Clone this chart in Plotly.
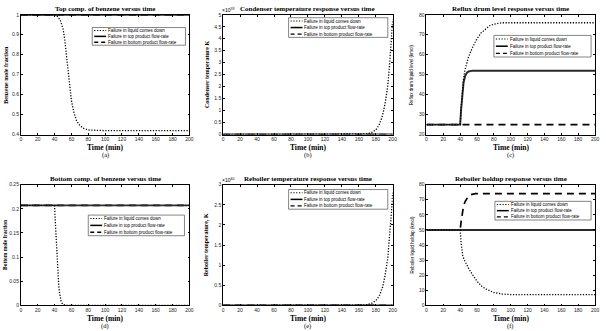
import plotly.graph_objects as go

W, H = 606, 331

# ---------------- data ----------------
time_ticks = [0, 20, 40, 60, 80, 100, 120, 140, 160, 180, 200]
series_names = ["Failure in liquid comes down",
                "Failure in top product flow-rate",
                "Failure in bottom product flow-rate"]

# (a) Top comp. of benzene
a_liq_t = [0, 40, 44, 47, 50, 52, 54, 56, 58, 60, 63, 66, 70, 75, 80, 90, 100, 200]
a_liq_y = [1, 1, 0.99, 0.97, 0.93, 0.88, 0.80, 0.72, 0.64, 0.57, 0.51, 0.47, 0.445, 0.43, 0.423, 0.42, 0.42, 0.42]
a_top_t = [0, 200]
a_top_y = [1, 1]
a_bot_t = [0, 200]
a_bot_y = [1, 1]

# (b) Condenser temperature (x1e59)
b_liq_t = [0, 160, 165, 170, 175, 180, 184, 188, 191, 194, 196, 198, 199, 200]
b_liq_y = [0, 0, 0.01, 0.03, 0.08, 0.2, 0.4, 0.8, 1.3, 2.0, 2.8, 3.7, 4.2, 4.8]
b_top_t = [0, 200]
b_top_y = [0, 0]
b_bot_t = [0, 200]
b_bot_y = [0, 0]

# (c) Reflux drum level
c_liq_t = [0, 40, 41, 42, 44, 46, 48, 50, 55, 60, 65, 70, 75, 80, 85, 90, 95, 100, 200]
c_liq_y = [25, 25, 33, 40, 48, 53, 56, 59, 64, 68, 71, 73, 74.5, 75.3, 75.8, 76, 76, 76, 76]
c_top_t = [0, 40, 41, 42, 43, 44, 46, 48, 50, 55, 60, 200]
c_top_y = [25, 25, 32, 38, 43, 46, 49.5, 51, 51.6, 52, 52, 52]
c_bot_t = [0, 200]
c_bot_y = [25, 25]

# (d) Bottom comp. of benzene
d_liq_t = [0, 40, 41, 42, 43, 44, 45, 46, 47, 48, 50, 55, 200]
d_liq_y = [0.207, 0.207, 0.17, 0.13, 0.095, 0.065, 0.04, 0.025, 0.014, 0.007, 0.002, 0, 0]
d_top_t = [0, 200]
d_top_y = [0.207, 0.207]
d_bot_t = [0, 200]
d_bot_y = [0.207, 0.207]

# (e) Reboiler temperature (x1e60)
e_liq_t = [0, 160, 165, 170, 175, 180, 184, 188, 191, 194, 196, 198, 199, 200]
e_liq_y = [0, 0, 0.01, 0.02, 0.05, 0.12, 0.23, 0.45, 0.75, 1.15, 1.6, 2.15, 2.45, 2.8]
e_top_t = [0, 200]
e_top_y = [0, 0]
e_bot_t = [0, 200]
e_bot_y = [0, 0]

# (f) Reboiler holdup
f_liq_t = [0, 40, 41, 42, 43, 45, 47, 50, 55, 60, 65, 70, 80, 90, 100, 200]
f_liq_y = [50, 50, 42, 37, 33, 30, 27.5, 24.5, 20, 16, 13, 11, 8.5, 7.5, 7.2, 7.2]
f_top_t = [0, 200]
f_top_y = [50, 50]
f_bot_t = [0, 40, 41, 42, 43, 44, 46, 48, 50, 52, 55, 58, 200]
f_bot_y = [50, 50, 55, 60, 63, 66, 69, 71, 72.5, 73.3, 73.8, 74, 74]

# ---------------- layout helpers ----------------
def px_x(v):
    return v / W

def px_y(v):
    return 1 - v / H

cols = [(20, 190), (224, 395), (429, 599)]
rows = [(12, 134), (185, 308)]

panels = [
    dict(title="Top comp. of benzene versus time", ylab="Benzene mole fraction",
         yr=[0.4, 1], dt=0.1, data=[(a_liq_t, a_liq_y), (a_top_t, a_top_y), (a_bot_t, a_bot_y)],
         cap="(a)", legend=(92, 186, 25, 43), ylabsize=6, ylabx=5, exp=None),
    dict(title="Condenser temperature response versus time", ylab="Condenser temperature K",
         yr=[0, 5], dt=0.5, data=[(b_liq_t, b_liq_y), (b_top_t, b_top_y), (b_bot_t, b_bot_y)],
         cap="(b)", legend=(290, 390, 15, 35), ylabsize=6, ylabx=207, exp="×10<sup>59</sup>"),
    dict(title="Reflux drum level response versus time", ylab="Reflux drum liquid level (kmol)",
         yr=[20, 80], dt=10, data=[(c_liq_t, c_liq_y), (c_top_t, c_top_y), (c_bot_t, c_bot_y)],
         cap="(c)", legend=(497, 595, 33, 55), ylabsize=4.5, ylabx=414, exp=None),
    dict(title="Bottom comp. of benzene versus time", ylab="Bottom mole fraction",
         yr=[0, 0.25], dt=0.05, data=[(d_liq_t, d_liq_y), (d_top_t, d_top_y), (d_bot_t, d_bot_y)],
         cap="(d)", legend=(88, 185, 216, 237), ylabsize=5.5, ylabx=4, exp=None),
    dict(title="Reboiler temperature response versus time", ylab="Reboiler temperature, K",
         yr=[0, 3], dt=0.5, data=[(e_liq_t, e_liq_y), (e_top_t, e_top_y), (e_bot_t, e_bot_y)],
         cap="(e)", legend=(290, 390, 190, 210), ylabsize=6, ylabx=207, exp="×10<sup>60</sup>"),
    dict(title="Reboiler holdup response versus time", ylab="Reboiler liquid holdup (kmol)",
         yr=[0, 80], dt=10, data=[(f_liq_t, f_liq_y), (f_top_t, f_top_y), (f_bot_t, f_bot_y)],
         cap="(f)", legend=(498, 595, 202, 221), ylabsize=4.5, ylabx=414, exp=None),
]

styles = [
    dict(color="black", width=1.3, dash="1.2px,1.6px"),
    dict(color="#2a2a2a", width=1.9, dash="solid"),
    dict(color="black", width=1.7, dash="7px,5px"),
]

SERIF = "Liberation Serif"
SANS = "Liberation Sans"

fig = go.Figure()
layout = dict(width=W, height=H, margin=dict(l=0, r=0, t=0, b=0),
              paper_bgcolor="white", plot_bgcolor="white", showlegend=False)
annotations = []
shapes = []


def note(text, x, y, size, family=SERIF, xanchor="center", angle=0):
    annotations.append(dict(text=text, x=px_x(x), y=px_y(y), xref="paper", yref="paper",
                            showarrow=False, xanchor=xanchor, yanchor="middle",
                            textangle=angle, borderpad=0,
                            font=dict(family=family, size=size, color="black")))


for i, p in enumerate(panels):
    r, c = divmod(i, 3)
    x0, x1 = cols[c]
    y0, y1 = rows[r]
    n = "" if i == 0 else str(i + 1)
    axcommon = dict(showline=True, linecolor="black", linewidth=0.8, mirror="ticks",
                    ticks="inside", ticklen=2, tickcolor="black", showgrid=False,
                    zeroline=False, tickfont=dict(family=SANS, size=5, color="#222"))
    layout["xaxis" + n] = dict(domain=[px_x(x0), px_x(x1)], range=[0, 200],
                               tickvals=time_ticks, anchor="y" + n, **axcommon)
    layout["yaxis" + n] = dict(domain=[px_y(y1), px_y(y0)], range=p["yr"],
                               dtick=p["dt"], tick0=0, anchor="x" + n, **axcommon)
    for k in [2, 1, 0]:
        t, y = p["data"][k]
        fig.add_trace(go.Scatter(x=t, y=y, mode="lines", name=series_names[k],
                                 line=styles[k], xaxis="x" + n, yaxis="y" + n,
                                 hoverinfo="skip", cliponaxis=True))
    cx = (x0 + x1) / 2
    note("<b>%s</b>" % p["title"], cx, y0 - 5.5, 7)
    note("<b>Time (min)</b>", cx, y1 + 13, 7.5)
    note(p["cap"], cx, y1 + 21, 6.5)
    bold = p["ylabsize"] >= 5.5
    note(("<b>%s</b>" % p["ylab"]) if bold else p["ylab"], p["ylabx"], (y0 + y1) / 2,
         p["ylabsize"], family=SERIF if bold else SANS, angle=-90)
    if p["exp"]:
        note(p["exp"], x0 - 2, y0 - 5, 5, family=SANS, xanchor="left")
    # legend box
    lx0, lx1, ly0, ly1 = p["legend"]
    shapes.append(dict(type="rect", xref="paper", yref="paper",
                       x0=px_x(lx0), x1=px_x(lx1), y0=px_y(ly1), y1=px_y(ly0),
                       line=dict(color="#333", width=0.6), fillcolor="white", layer="above"))
    step = (ly1 - ly0) / 3
    for k in range(3):
        yy = ly0 + step * (k + 0.5)
        st = styles[k]
        dash = st["dash"] if k != 2 else "4px,3px"
        shapes.append(dict(type="line", xref="paper", yref="paper",
                           x0=px_x(lx0 + 2), x1=px_x(lx0 + 14), y0=px_y(yy), y1=px_y(yy),
                           line=dict(color="black", width=st["width"] * 0.8, dash=dash),
                           layer="above"))
        note(series_names[k], lx0 + 15, yy, 4.5, family=SANS, xanchor="left")

layout["annotations"] = annotations
layout["shapes"] = shapes
fig.update_layout(**layout)
fig.write_html("out.html")
